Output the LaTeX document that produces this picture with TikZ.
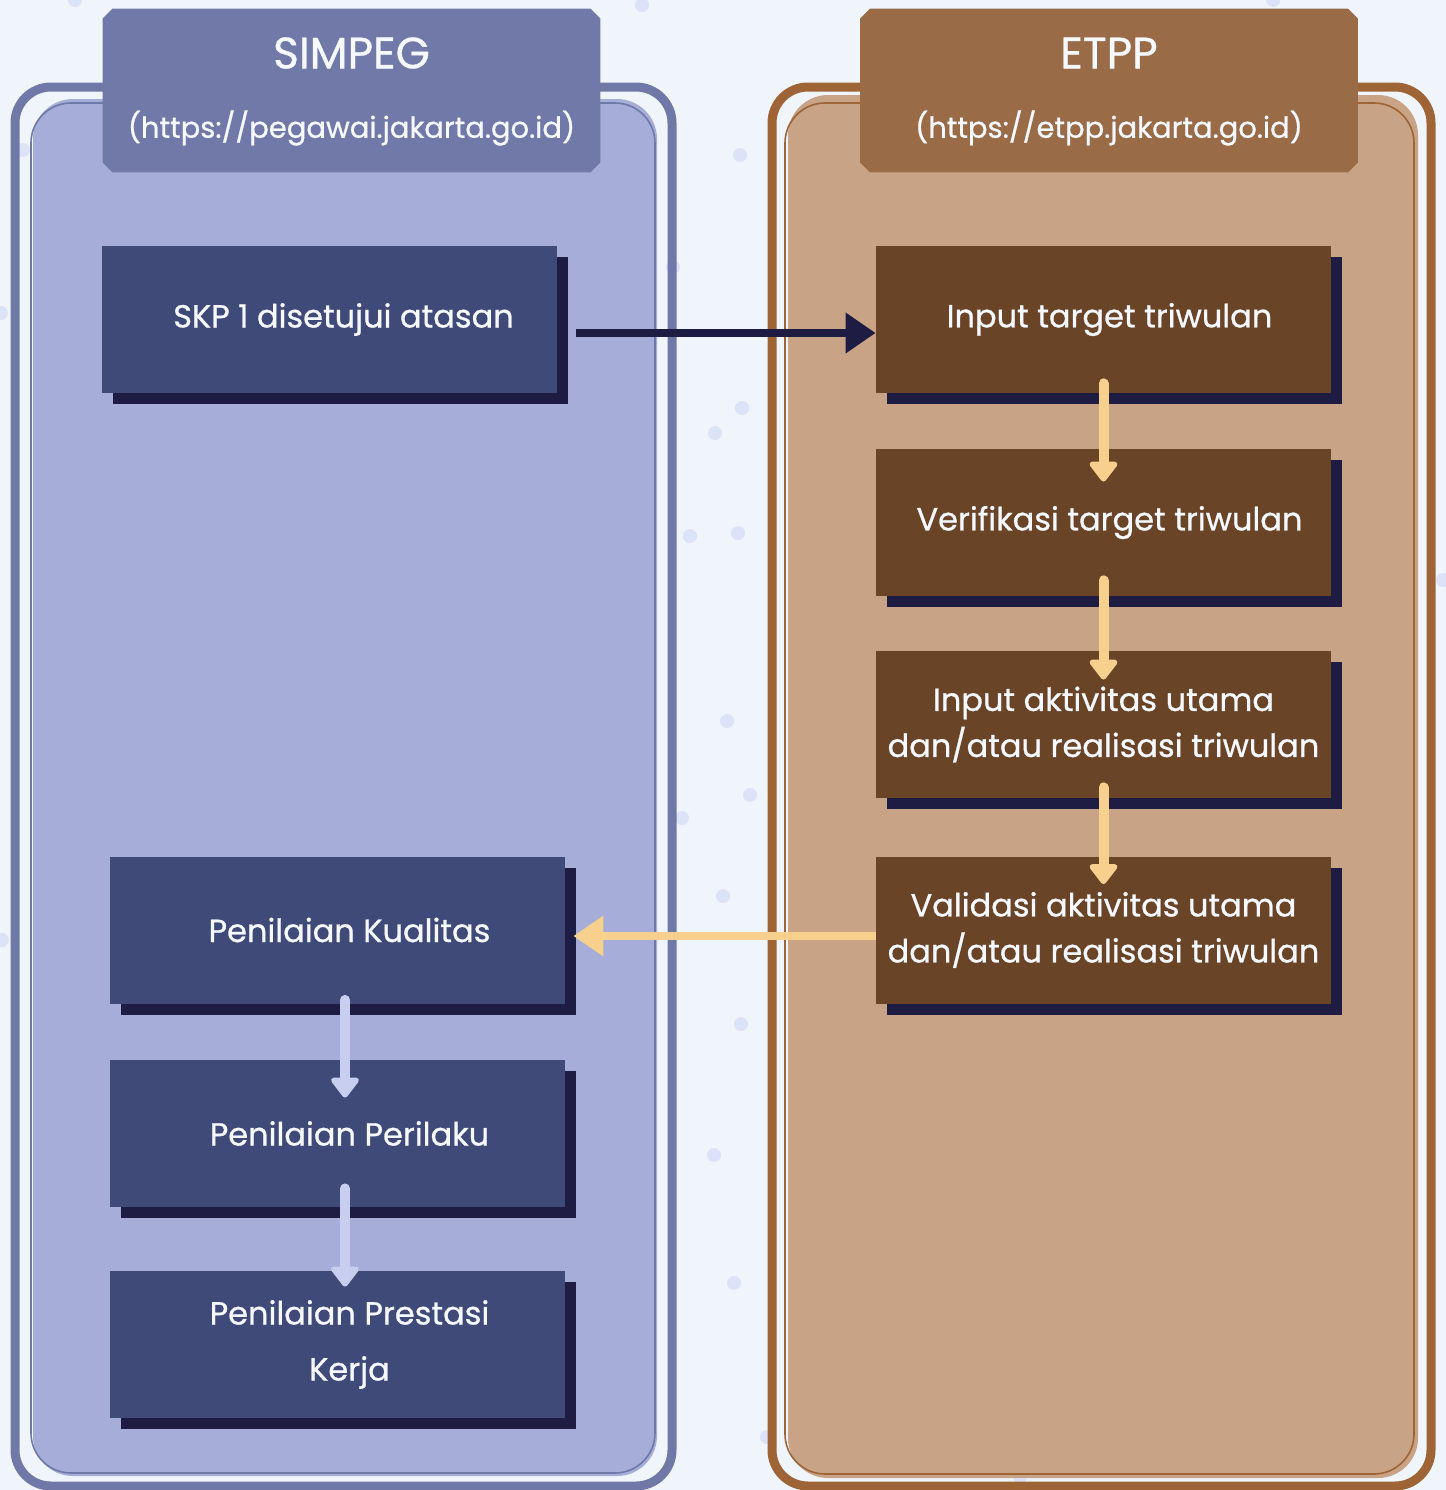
\documentclass[tikz,border=0pt]{standalone}
\usepackage{fontspec}
\setmainfont{Poppins}
\newfontfamily\handfont{Poppins}[FakeBold=0.8]
\usetikzlibrary{arrows.meta,shadows}

\definecolor{bgc}{HTML}{F0F5FC}
\definecolor{dotc}{HTML}{DCE2F8}
\definecolor{simpline}{HTML}{7078A8}
\definecolor{simpfill}{HTML}{A5ADD8}
\definecolor{simphead}{HTML}{7179A9}
\definecolor{simpbox}{HTML}{3F4A78}
\definecolor{shadowc}{HTML}{1E1C42}
\definecolor{etppline}{HTML}{9E6436}
\definecolor{etppfill}{HTML}{C8A385}
\definecolor{etpphead}{HTML}{996B47}
\definecolor{etppbox}{HTML}{6A4426}
\definecolor{ocol}{HTML}{F6D08C}
\definecolor{lcol}{HTML}{C8CEF0}
\definecolor{txtc}{HTML}{F5F8FF}

% chamfered fill round a header node
\newcommand{\chamferfill}[2]{%
  \fill[#2] ([xshift=5pt]#1.north west) -- ([xshift=-5pt]#1.north east)
    -- ([yshift=-5pt]#1.north east) -- ([yshift=5pt]#1.south east)
    -- ([xshift=-5pt]#1.south east) -- ([xshift=5pt]#1.south west)
    -- ([yshift=5pt]#1.south west) -- ([yshift=-5pt]#1.north west) -- cycle;}

\tikzset{
  head/.style={rectangle, minimum width=248.5pt, minimum height=81.5pt, inner sep=0pt},
  headtitle/.style={text=txtc, font=\handfont\fontsize{22}{26}\selectfont},
  headurl/.style={text=txtc, font=\handfont\fontsize{14.5}{16}\selectfont},
  flowbox/.style={rectangle, text=txtc, minimum width=227.5pt,
    minimum height=73.5pt, align=center, inner sep=0pt,
    font=\handfont\fontsize{16}{23}\selectfont,
    general shadow={fill=shadowc, shadow xshift=5.5pt, shadow yshift=-5.5pt}},
  lbox/.style={flowbox, fill=simpbox},
  rbox/.style={flowbox, fill=etppbox},
  harrow/.style={-{Triangle[width=19.5pt,length=15pt]}, line width=3.6pt},
  varrow/.style={-{Triangle[width=16pt,length=11pt,round]}, line width=5pt,
    line cap=round},
}

\begin{document}
\begin{tikzpicture}[x=0.5pt,y=-0.5pt]
  \useasboundingbox (0,0) rectangle (1446,1490);
  \clip (0,0) rectangle (1446,1490);
  % background and dots
  \fill[bgc] (0,0) rectangle (1446,1490);
  \foreach \px/\py in {740/155,742/408,715/433,690/536,738/533,727/721,
      750/795,682/818,723/896,741/1024,714/1155,734/1283,75/0,642/5,
      1273/0,1/313,1443/580,2/940,23/150,767/1437,1020/1477,673/267}
    \fill[dotc] (\px,\py) circle[radius=7];

  % SIMPEG panel
  \fill[simpfill, rounded corners=20pt] (33,99) rectangle (657,1476);
  \draw[simpline, line width=0.8pt, rounded corners=20pt] (31,103) rectangle (655,1473);
  \draw[simpline, line width=4.5pt, rounded corners=18pt] (15,87) rectangle (672,1486);

  % ETPP panel
  \fill[etppfill, rounded corners=20pt] (788,95) rectangle (1418,1478);
  \draw[etppline, line width=0.8pt, rounded corners=20pt] (785,103) rectangle (1414,1474);
  \draw[etppline, line width=4.5pt, rounded corners=18pt] (772,87) rectangle (1431,1486);

  % headers
  \node[head] (simpeg) at (351.5,90.5) {};
  \chamferfill{simpeg}{simphead}
  \node[headtitle] (simpegt) at (351.5,53) {SIMPEG};
  \node[headurl] (simpegu) at (351.5,128) {(https://pegawai.jakarta.go.id)};
  \node[head] (etpp) at (1109,90.5) {};
  \chamferfill{etpp}{etpphead}
  \node[headtitle] (etppt) at (1109,53) {ETPP};
  \node[headurl] (etppu) at (1109,128) {(https://etpp.jakarta.go.id)};

  % SIMPEG steps
  \node[lbox] (skp) at (329.5,319.5) {\hspace*{14pt}SKP 1 disetujui atasan};
  \node[lbox] (kua) at (337.5,930) {\hspace*{12pt}Penilaian Kualitas};
  \node[lbox] (per) at (337.5,1133.5) {\hspace*{12pt}Penilaian Perilaku};
  \node[lbox, font=\handfont\fontsize{16}{28}\selectfont] (pre) at (337.5,1344.5) {\hspace*{12pt}Penilaian Prestasi\\\hspace*{12pt}Kerja};

  % ETPP steps
  \node[rbox] (inp) at (1103.5,319.5) {\hspace*{6pt}Input target triwulan};
  \node[rbox] (ver) at (1103.5,522.5) {\hspace*{6pt}Verifikasi target triwulan};
  \node[rbox] (akt) at (1103.5,724.5) {Input aktivitas utama\\dan/atau realisasi triwulan};
  \node[rbox] (val) at (1103.5,930) {Validasi aktivitas utama\\dan/atau realisasi triwulan};

  \draw[harrow, shadowc] ([xshift=9.5pt,yshift=-6.75pt]skp.east) -- ([yshift=-6.75pt]inp.west);
  \draw[harrow, ocol] ([yshift=-3pt]val.west) -- ([xshift=4pt,yshift=-3pt]kua.east);

  \draw[varrow, ocol] ([yshift=5pt]inp.south) -- ([yshift=-16.5pt]ver.north);
  \draw[varrow, ocol] ([yshift=8pt]ver.south) -- ([yshift=-14.5pt]akt.north);
  \draw[varrow, ocol] ([yshift=5.5pt]akt.south) -- ([yshift=-14pt]val.north);

  \draw[varrow, lcol] ([xshift=3.75pt,yshift=2pt]kua.south) -- ([xshift=3.75pt,yshift=-19pt]per.north);
  \draw[varrow, lcol] ([xshift=3.75pt,yshift=9.5pt]per.south) -- ([xshift=3.75pt,yshift=-8pt]pre.north);
\end{tikzpicture}
\end{document}
